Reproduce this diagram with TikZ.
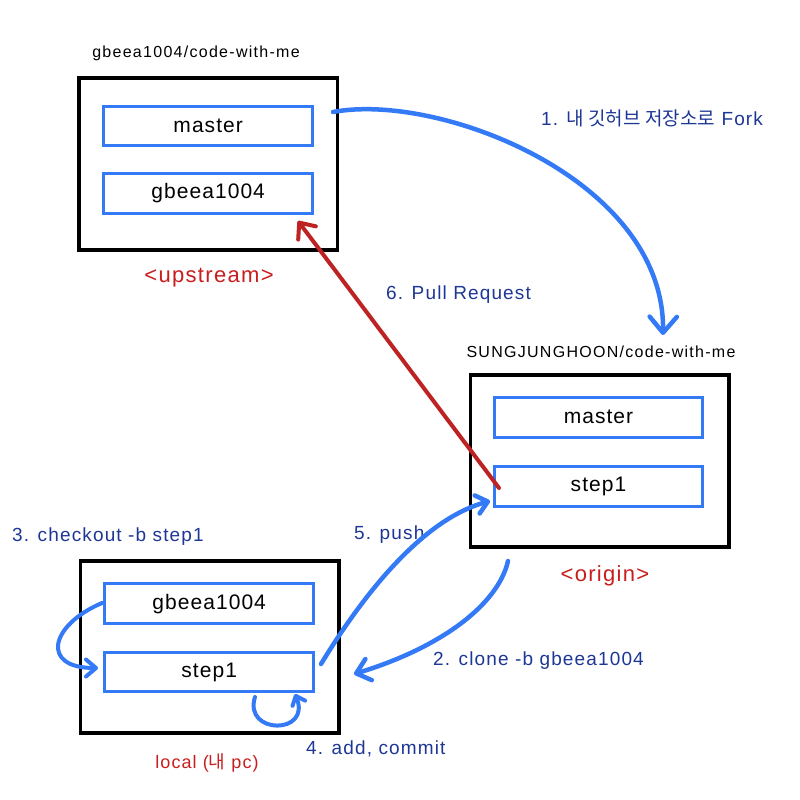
\documentclass[tikz,border=0pt]{standalone}
\usepackage{fontspec}
\setmainfont{Liberation Sans}
\newfontfamily\boxsans{Liberation Sans}[LetterSpace=5]
\newfontfamily\widesans{Liberation Sans}[LetterSpace=6]
\newfontfamily\titlesans{Liberation Sans}[LetterSpace=8]
\newfontfamily\krsans{Noto Sans CJK KR}
\usetikzlibrary{arrows.meta}
\definecolor{branchblue}{RGB}{52,122,246}
\definecolor{navytext}{RGB}{30,55,150}
\definecolor{prred}{RGB}{190,35,35}
\definecolor{redtext}{RGB}{200,30,30}
\begin{document}
\begin{tikzpicture}[x=1pt,y=-1pt,
  repo/.style={draw=black, line width=3.5pt, minimum width=258.5pt, minimum height=172pt, inner sep=0pt},
  branch/.style={draw=branchblue, line width=3pt, minimum width=208.7pt, minimum height=39.5pt,
    inner sep=0pt, font=\boxsans\fontsize{21}{25}\selectfont},
  repotitle/.style={anchor=base, inner sep=0pt, font=\titlesans\fontsize{16}{19}\selectfont},
  reponame/.style={anchor=base, inner sep=0pt, text=redtext, font=\widesans\fontsize{22}{26}\selectfont},
  steplabel/.style={anchor=base west, inner sep=0pt, text=navytext, font=\widesans\fontsize{19}{23}\selectfont},
  flow/.style={draw=branchblue, line width=4.5pt, line cap=round},
  barb/.style={-{Straight Barb[length=#1, width=1.7*#1, round]}},
]
\fill[white] (0,0) rectangle (800,800);
\useasboundingbox (0,0) rectangle (800,800);

% upstream repository
\node[repo] (up) at (208.2,164.2) {};
\node[branch] (upmaster) at (208.2,126.2) {master};
\node[branch] (upgb) at (208.2,193.5) {gbeea1004};
\node[repotitle] (uptitle) at (196,57) {gbeea1004/code-with-me};
\node[reponame] (upname) at (209,282) {<upstream>};

% origin repository (fork)
\node[repo] (org) at (599.5,461) {};
\node[branch] (orgmaster) at (598.5,417.3) {master};
\node[branch] (orgstep) at (598.5,486.7) {step1};
\node[repotitle] (orgtitle) at (601,357) {SUNGJUNGHOON/code-with-me};
\node[reponame] (orgname) at (605,581) {<origin>};

% local clone
\node[repo] (loc) at (209.7,647.2) {};
\node[branch] (locgb) at (209.2,603.7) {gbeea1004};
\node[branch] (locstep) at (209.2,672) {step1};
\node[anchor=base, inner sep=0pt, text=redtext, font=\widesans\fontsize{18}{21}\selectfont]
  (locname) at (207,768) {local ({\krsans 내} pc)};

% step labels
\node[steplabel] (lfork) at (541,125) {1. {\krsans\fontsize{19}{22}\selectfont 내 깃허브 저장소로} Fork};
\node[steplabel] (lclone) at (433,665) {2. clone -b gbeea1004};
\node[steplabel] (lcheckout) at (12,541) {3. checkout -b step1};
\node[steplabel] (lcommit) at (306,754) {4. add, commit};
\node[steplabel] (lpush) at (354,539) {5. push};
\node[steplabel] (lpr) at (386,299) {6. Pull Request};

% connector end points
\coordinate (forkfrom) at (333,112);
\coordinate (forkto) at (663,335);
\coordinate (clonefrom) at (508,561);
\coordinate (cloneto) at (354,674);
\coordinate (cofrom) at (102,603);
\coordinate (coto) at (98,668);
\coordinate (cmfrom) at (255,697);
\coordinate (cmto) at (295,694);
\coordinate (pushfrom) at (321,664);
\coordinate (pushto) at (490,501);
\coordinate (prfrom) at (499,488);
\coordinate (prto) at (298,221);

% 1. fork
\draw[flow, barb=16pt] (forkfrom) .. controls (440,92) and (665,180) .. (forkto);
% 2. clone
\draw[flow, barb=13pt] (clonefrom) .. controls (498,605) and (440,648) .. (cloneto);
% 3. checkout
\draw[flow, line width=4pt, barb=10pt] (cofrom) .. controls (50,625) and (40,668) .. (coto);
% 4. add, commit
\draw[flow, line width=4pt, barb=8pt] (cmfrom) .. controls (243,735) and (312,735) .. (cmto);
% 5. push
\draw[flow, barb=11pt] (pushfrom) .. controls (360,600) and (420,520) .. (pushto);
% 6. pull request
\draw[draw=prred, line width=4pt, line cap=round, barb=13pt] (prfrom) -- (prto);
\end{tikzpicture}
\end{document}
